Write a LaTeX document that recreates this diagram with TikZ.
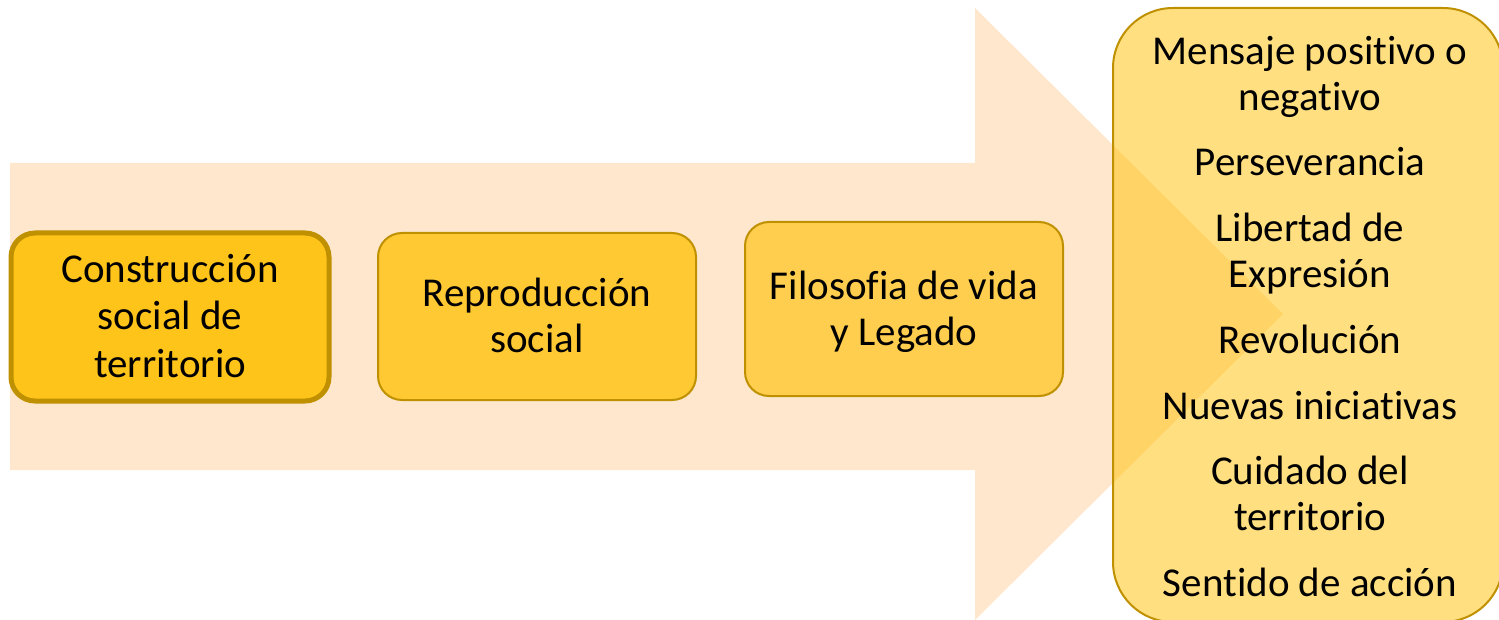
\documentclass[tikz,border=0pt]{standalone}
\usepackage{fontspec}
\setmainfont[Ligatures={NoCommon}]{Carlito}
\definecolor{peach}{HTML}{FFE7CD}
\definecolor{goldline}{HTML}{BF9000}
\definecolor{fillA}{HTML}{FFC41A}
\definecolor{fillB}{HTML}{FFC933}
\definecolor{fillC}{HTML}{FFCE4F}
\definecolor{fillR}{HTML}{FFC000}
\tikzset{
  box/.style={draw=goldline, line width=2pt, rounded corners=24pt, inner sep=0pt},
  txt/.style={font=\fontsize{41}{47}\selectfont, inner sep=0pt, anchor=base, text=black},
}
\begin{document}
\begin{tikzpicture}[x=1pt,y=-1pt]
\useasboundingbox (0,0) rectangle (1499,620);
\clip (0,0) rectangle (1499,620);
% big arrow
\fill[peach] (10,163) -- (975,163) -- (975,8) -- (1283,314) -- (975,620) -- (975,470) -- (10,470) -- cycle;
% boxes
\node[box, line width=5pt, fill=fillA, minimum width=318pt, minimum height=168pt] (b1) at (170,317) {};
\node[box, fill=fillB, minimum width=318pt, minimum height=167pt] (b2) at (537,316.5) {};
\node[box, fill=fillC, minimum width=318pt, minimum height=174pt] (b3) at (904,309) {};
\path[draw=goldline, line width=2pt, fill=fillR, fill opacity=0.5, rounded corners=60pt] (1113,8) rectangle (1503,622);
\node[inner sep=0pt, minimum width=390pt, minimum height=614pt] (rb) at (1308,315) {};
% texts in boxes
\node[txt] (t1a) at (170,283) {Construcción};
\node[txt] (t1b) at (170,330) {social de};
\node[txt] (t1c) at (170,377) {territorio};
\node[txt] (t2a) at (537,306) {Reproducción};
\node[txt] (t2b) at (537,352) {social};
\node[txt] (t3a) at (904,299) {Filosofia de vida};
\node[txt] (t3b) at (904,345) {y Legado};
% right list
\foreach \t/\y [count=\i] in {Mensaje positivo o/65, negativo/111, Perseverancia/176, Libertad de/242, Expresión/288, Revolución/353, Nuevas iniciativas/419, Cuidado del/484, territorio/530, Sentido de acción/596}
  \node[txt] (r\i) at (1310,\y) {\t};
\end{tikzpicture}
\end{document}
